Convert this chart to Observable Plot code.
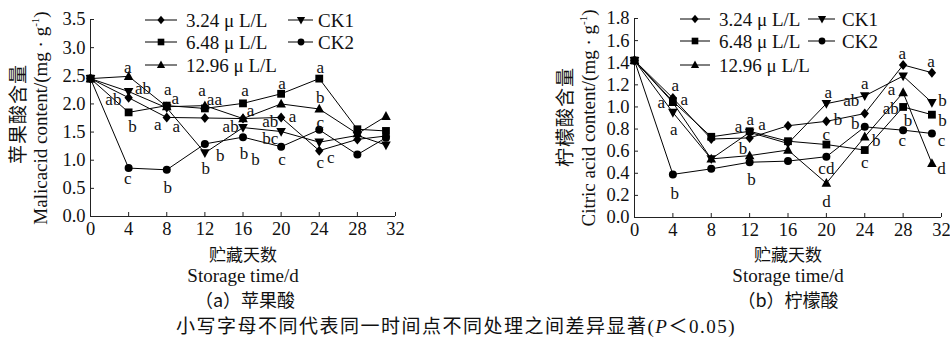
<!DOCTYPE html>
<html><head><meta charset="utf-8">
<script src="https://cdn.jsdelivr.net/npm/d3@7"></script>
<script src="https://cdn.jsdelivr.net/npm/@observablehq/plot@0.6"></script>
<style>
body{margin:0;background:#fff;}
#root{position:relative;width:950px;height:347px;overflow:hidden;font-family:"Liberation Serif","Noto Sans CJK SC",serif;color:#111;}
.abs{position:absolute;white-space:nowrap;line-height:1;}
.cn{font-family:"Noto Sans CJK SC",sans-serif;}
.ctr{transform:translate(-50%,-50%);}
.rot{transform:translate(-50%,-50%) rotate(-90deg);}
svg{overflow:visible;}
</style></head><body><div id="root"></div>
<script>
// ---- data ----
const days = [0, 4, 8, 12, 16, 20, 24, 28, 31];
const seriesNames = ["3.24 μ L/L", "6.48 μ L/L", "12.96 μ L/L", "CK1", "CK2"];
const xTicks = [0, 4, 8, 12, 16, 20, 24, 28, 32];
const malicTicks = [0, 0.5, 1.0, 1.5, 2.0, 2.5, 3.0, 3.5];
const citricTicks = [0, 0.2, 0.4, 0.6, 0.8, 1.0, 1.2, 1.4, 1.6, 1.8];

// Malic acid (mg/g)
const malic324  = [2.45, 2.11, 1.76, 1.75, 1.74, 1.76, 1.17, 1.37, 1.43];
const malic648  = [2.45, 1.85, 1.97, 1.92, 2.01, 2.18, 2.45, 1.55, 1.52];
const malic1296 = [2.45, 2.49, 1.95, 1.97, 1.74, 2.00, 1.91, 1.47, 1.78];
const malicCK1  = [2.45, 2.22, 1.93, 1.13, 1.58, 1.51, 1.32, 1.44, 1.27];
const malicCK2  = [2.45, 0.86, 0.83, 1.29, 1.41, 1.24, 1.54, 1.10, 1.40];

// Citric acid (mg/g)
const citric324  = [1.42, 1.08, 0.71, 0.72, 0.83, 0.87, 0.94, 1.38, 1.31];
const citric648  = [1.42, 1.05, 0.73, 0.78, 0.69, 0.66, 0.61, 1.00, 0.93];
const citric1296 = [1.42, 1.04, 0.53, 0.56, 0.61, 0.31, 0.73, 1.13, 0.49];
const citricCK1  = [1.42, 0.95, 0.53, 0.77, 0.67, 1.03, 1.10, 1.28, 1.04];
const citricCK2  = [1.42, 0.39, 0.44, 0.50, 0.51, 0.55, 0.82, 0.79, 0.76];

// significance letters (day, value where letter sits, text)
const malicLabDay = [3.9,5.5,2.4,4.4,3.9, 8.1,8.9,7.05,9.0,8.1, 11.7,13.0,13.6,12.1, 16.2,16.8,14.7,16.1,17.3, 20.1,21.2,18.85,18.85,20.1, 24.1,24.1,24.1,24.1,25.2];
const malicLabVal = [2.65,2.27,2.08,1.59,0.67, 2.25,2.10,1.63,1.60,0.52, 2.24,2.07,1.08,0.85, 2.24,1.88,1.60,1.11,1.02, 2.36,1.78,1.69,1.38,1.01, 2.65,2.12,1.67,0.95,1.04];
const malicLabTxt = ["a","ab","ab","b","c", "a","a","a","a","b", "a","aa","b","b", "a","a","ab","b","b", "a","a","ab","bc","c", "a","b","c","c","c"];

const citricLabDay = [4.26,2.8,5.2,4.1,4.2, 12.06,10.85,13.3,11.3,12.2, 20.2,21.2,20.0,20.0,20.0, 24.0,22.6,23.0,25.2,24.0, 27.9,26.8,26.7,28.5,27.9, 30.9,32.1,32.1,32.0,32.0];
const citricLabVal = [1.19,1.04,1.07,0.80,0.22, 0.89,0.82,0.84,0.62,0.34, 1.13,0.885,0.75,0.44,0.14, 1.21,1.06,0.85,0.70,0.50, 1.48,1.16,0.99,0.88,0.70, 1.41,1.06,0.88,0.70,0.44];
const citricLabTxt = ["a","a","a","a","b", "a","a","a","b","b", "a","b","c","cd","d", "a","ab","b","b","c", "a","a","ab","b","c", "a","b","b","c","d"];

// ---- symbols ----
const symDiamond = {draw(c){c.moveTo(0,-5);c.lineTo(4.2,0);c.lineTo(0,5);c.lineTo(-4.2,0);c.closePath();}};
const symSquare  = {draw(c){c.moveTo(-3.9,-3.9);c.lineTo(3.9,-3.9);c.lineTo(3.9,3.9);c.lineTo(-3.9,3.9);c.closePath();}};
const symTriUp   = {draw(c){c.moveTo(0,-5.2);c.lineTo(4.8,3.6);c.lineTo(-4.8,3.6);c.closePath();}};
const symTriDown = {draw(c){c.moveTo(0,5.2);c.lineTo(4.8,-3.6);c.lineTo(-4.8,-3.6);c.closePath();}};
const symCircle  = {draw(c){c.moveTo(4,0);c.arc(0,0,4,0,2*Math.PI);c.closePath();}};
const symbols = [symDiamond, symSquare, symTriUp, symTriDown, symCircle];

const root = document.getElementById("root");
const FONT = '"Liberation Serif","Noto Sans CJK SC",serif';

function panel({series, yDomain, yTicks, labDay, labVal, labTxt, left, width, marginLeft, marginRight, marginTop, bottomY}) {
  const height = 245;
  const rows = [];
  series.forEach((vals, si) => days.forEach((d, i) => rows.push({series: seriesNames[si], si, day: d, value: vals[i]})));
  const labels = labTxt.map((t, i) => ({day: labDay[i], value: labVal[i], text: t}));
  const chart = Plot.plot({
    width, height, marginLeft, marginRight, marginTop, marginBottom: height - bottomY,
    x: {domain: [0, 32]},
    y: {domain: yDomain},
    style: {fontFamily: FONT, fontSize: "18.5px", color: "#111", background: "transparent", overflow: "visible"},
    marks: [
      Plot.axisX({ticks: xTicks, tickSize: -4, tickPadding: 9, label: null, stroke: "#222"}),
      Plot.axisY({ticks: yTicks, tickSize: -4, tickPadding: 9, tickFormat: d3.format(".1f"), label: null, stroke: "#222"}),
      Plot.ruleX([0], {stroke: "#222"}),
      Plot.ruleY([0], {stroke: "#222"}),
      Plot.line(rows, {x: "day", y: "value", z: "series", stroke: "#000", strokeWidth: 1}),
      ...symbols.map((sym, si) => Plot.dot(rows.filter(r => r.si === si), {x: "day", y: "value", symbol: sym, fill: "#000", stroke: "none"})),
      Plot.text(labels, {x: "day", y: "value", text: "text", fontSize: 17, fill: "#111"})
    ]
  });
  chart.style.position = "absolute";
  chart.style.left = left + "px";
  chart.style.top = "0px";
  root.appendChild(chart);
}

panel({series: [malic324, malic648, malic1296, malicCK1, malicCK2], yDomain: [0, 3.5], yTicks: malicTicks,
  labDay: malicLabDay, labVal: malicLabVal, labTxt: malicLabTxt,
  left: 0, width: 430, marginLeft: 90, marginRight: 35, marginTop: 19, bottomY: 216});
panel({series: [citric324, citric648, citric1296, citricCK1, citricCK2], yDomain: [0, 1.8], yTicks: citricTicks,
  labDay: citricLabDay, labVal: citricLabVal, labTxt: citricLabTxt,
  left: 540, width: 410, marginLeft: 94, marginRight: 9, marginTop: 18, bottomY: 217});

// ---- legends ----
function legend(x1, x2, rowsY) {
  const svg = d3.select(root).append("svg").attr("width", 950).attr("height", 100)
    .style("position", "absolute").style("left", "0px").style("top", "0px");
  const order = [[0, 0], [0, 1], [0, 2], [1, 0], [1, 1]];
  order.forEach(([col, row], si) => {
    const c = col === 0 ? x1 : x2;
    const y = rowsY[row];
    svg.append("line").attr("x1", c.l0).attr("x2", c.l1).attr("y1", y).attr("y2", y).attr("stroke", "#000").attr("stroke-width", 1);
    const p = d3.path(); symbols[si].draw(p);
    svg.append("path").attr("d", p.toString()).attr("transform", `translate(${c.m},${y}) scale(0.85)`).attr("fill", "#000");
    svg.append("text").attr("x", c.t).attr("y", y).attr("dy", "0.35em").attr("font-family", FONT).attr("font-size", 19).attr("fill", "#111").text(seriesNames[si]);
  });
}
legend({l0: 145, l1: 177, m: 161, t: 186}, {l0: 288, l1: 313, m: 301, t: 318}, [20, 42, 65]);
legend({l0: 680, l1: 710, m: 695, t: 719}, {l0: 808, l1: 835, m: 822, t: 842}, [19, 41, 65]);

// ---- titles ----
function addText(html, x, y, cls, size, extra) {
  const d = document.createElement("div");
  d.className = "abs " + cls;
  d.style.left = x + "px"; d.style.top = y + "px"; d.style.fontSize = size + "px";
  if (extra) Object.assign(d.style, extra);
  d.innerHTML = html;
  root.appendChild(d);
}
addText("苹果酸含量", 16, 114, "rot cn", 19, {letterSpacing: "1px"});
addText("Malicacid content/(mg · g<sup style='font-size:11px'>-1</sup>)", 40, 118, "rot", 19);
addText("柠檬酸含量", 563, 117, "rot cn", 19, {letterSpacing: "1px"});
addText("Citric acid content/(mg · g<sup style='font-size:11px'>-1</sup>)", 588, 118, "rot", 19);

addText("贮藏天数", 243, 253, "ctr cn", 17);
addText("Storage time/d", 243, 275, "ctr", 19);
addText("（a）苹果酸", 245, 299, "ctr cn", 18);
addText("贮藏天数", 788, 253, "ctr cn", 17);
addText("Storage time/d", 788, 275, "ctr", 19);
addText("（b）柠檬酸", 788, 299, "ctr cn", 18);
addText("小写字母不同代表同一时间点不同处理之间差异显著(<i>P</i>＜0.05)", 456, 326, "ctr", 19, {letterSpacing: "1.5px"});
</script></body></html>
